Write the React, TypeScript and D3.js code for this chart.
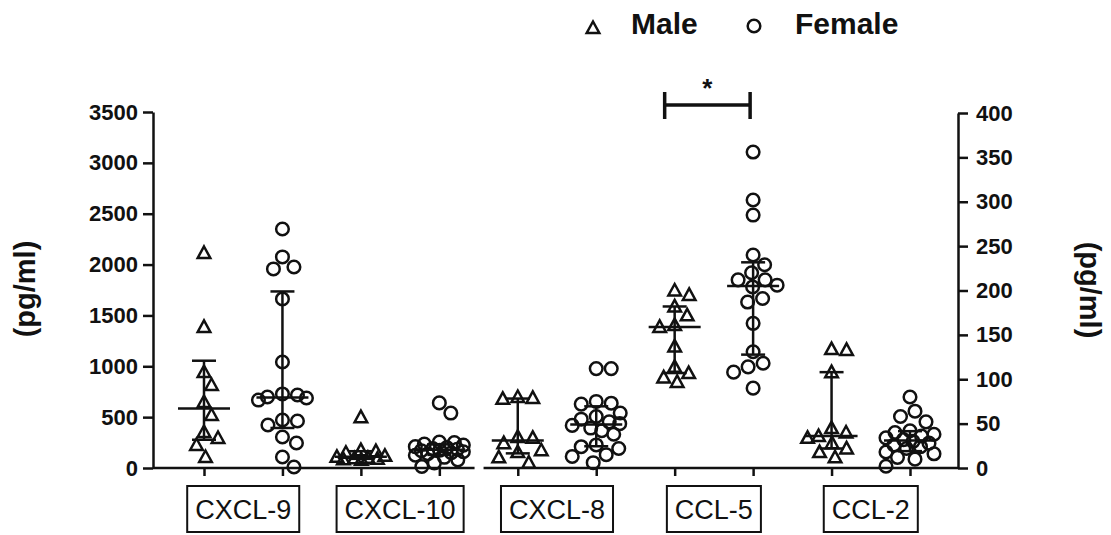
import * as d3 from 'd3';
import { useEffect, useRef } from 'react';

const categories = ['CXCL-9', 'CXCL-10', 'CXCL-8', 'CCL-5', 'CCL-2'];
const leftAxisCategories = ['CXCL-9', 'CXCL-10'];

const maleValues: number[][] = [
  [2114, 1387, 944, 816, 649, 521, 354, 295, 226, 108],
  [500, 175, 165, 150, 120, 110, 100, 95, 90, 85, 80],
  [80, 79, 78, 35, 34, 28, 20, 18, 12, 6],
  [200, 195, 182, 172, 161, 159, 137, 114, 107, 102, 97],
  [134, 133, 108, 45, 40, 36, 34, 28, 22, 18, 12],
];

const femaleValues: number[][] = [
  [2350, 2075, 1976, 1957, 1662, 1042, 728, 718, 698, 688, 668, 472, 462, 423, 305, 246, 108, 10],
  [640, 540, 255, 250, 235, 225, 210, 200, 190, 185, 175, 170, 160, 150, 140, 125, 105, 80, 50, 15],
  [112, 112, 75, 73, 72, 62, 58, 55, 52, 50, 48, 45, 42, 38, 26, 24, 22, 15, 13, 6],
  [356, 302, 285, 240, 229, 220, 212, 212, 206, 204, 191, 187, 163, 131, 118, 114, 108, 90],
  [80, 64, 58, 52, 42, 40, 38, 36, 34, 32, 30, 28, 26, 24, 22, 18, 16, 12, 10, 2],
];

const leftTicks = [0, 500, 1000, 1500, 2000, 2500, 3000, 3500];
const rightTicks = [0, 50, 100, 150, 200, 250, 300, 350, 400];
const sexes = ['Male', 'Female'];
const axisTitle = '(pg/ml)';
const significance = '*';

const FONT = '"Liberation Sans", Arial, sans-serif';

// quartile the way prism does it: position p*(n+1)
const quantile = (sorted: number[], p: number) => {
  const n = sorted.length;
  const pos = p * (n + 1);
  if (pos <= 1) return sorted[0];
  if (pos >= n) return sorted[n - 1];
  const lo = Math.floor(pos);
  return sorted[lo - 1] + (pos - lo) * (sorted[lo] - sorted[lo - 1]);
};

// spread points sideways, but never wider than cap; dense piles overlap
const dodge = (ys: number[], minDist: number, cap: number) => {
  const order = ys.map((_, i) => i).sort((a, b) => ys[a] - ys[b]);
  const cands: number[] = [0];
  for (let s = 0.5; s <= cap; s += 0.5) cands.push(s, -s);
  const placed: { x: number; y: number }[] = [];
  const xs = new Array(ys.length).fill(0);
  for (const i of order) {
    const y = ys[i];
    let best = 0;
    let bestD = -1;
    for (const c of cands) {
      const d = placed.length
        ? Math.min(...placed.map((p) => Math.hypot(p.x - c, p.y - y)))
        : Infinity;
      if (d >= minDist) {
        best = c;
        bestD = d;
        break;
      }
      if (d > bestD + 0.01) {
        best = c;
        bestD = d;
      }
    }
    xs[i] = best;
    placed.push({ x: best, y });
  }
  return xs;
};

const trianglePath = 'M0,-6.5L6.3,5L-6.3,5Z';

const Chart = () => {
  const ref = useRef<SVGSVGElement>(null);

  useEffect(() => {
    const svg = d3.select(ref.current);
    svg.selectAll('*').remove();

    const keys = categories.flatMap((c) => sexes.map((s) => `${c}|${s}`));
    const x = d3.scalePoint<string>().domain(keys).range([204, 910]);
    const yLeft = d3.scaleLinear().domain([0, 3500]).range([468, 112]);
    const yRight = d3.scaleLinear().domain([0, 400]).range([468, 113]);
    const yFor = (c: string) => (leftAxisCategories.includes(c) ? yLeft : yRight);

    // left axis
    const gl = svg
      .append('g')
      .attr('transform', 'translate(153,0)')
      .call(
        d3
          .axisLeft(yLeft)
          .tickValues(leftTicks)
          .tickFormat(d3.format('d'))
          .tickSize(10)
          .tickSizeOuter(0)
          .tickPadding(5)
      );
    // right axis
    const gr = svg
      .append('g')
      .attr('transform', 'translate(958,0)')
      .call(
        d3
          .axisRight(yRight)
          .tickValues(rightTicks)
          .tickFormat(d3.format('d'))
          .tickSize(10)
          .tickSizeOuter(0)
          .tickPadding(8)
      );
    [gl, gr].forEach((g) => {
      g.selectAll('path, line').attr('stroke', '#111').attr('stroke-width', 2.5);
      g.selectAll('text')
        .attr('fill', '#111')
        .style('font-family', FONT)
        .style('font-size', '22px')
        .style('font-weight', 'bold');
    });

    // bottom axis, broken between left and right scale groups
    const gb = svg
      .append('g')
      .attr('transform', 'translate(0,468)')
      .call(d3.axisBottom(x).tickSize(8).tickFormat(() => ''));
    gb.select('.domain').remove();
    gb.selectAll('line').attr('stroke', '#111').attr('stroke-width', 2.5);
    const breakX = (x('CXCL-10|Female')! + x('CXCL-8|Male')!) / 2;
    [
      [153, breakX - 4],
      [breakX + 5, 958],
    ].forEach(([a, b]) => {
      svg
        .append('line')
        .attr('x1', a)
        .attr('x2', b)
        .attr('y1', 468)
        .attr('y2', 468)
        .attr('stroke', '#111')
        .attr('stroke-width', 2.5);
    });

    // boxed category labels
    categories.forEach((c) => {
      const cx = (x(`${c}|Male`)! + x(`${c}|Female`)!) / 2;
      const lab = svg.append('g');
      const box = lab.append('rect');
      const t = lab
        .append('text')
        .attr('x', cx)
        .attr('y', 519)
        .attr('text-anchor', 'middle')
        .style('font-family', FONT)
        .style('font-size', '27px')
        .attr('fill', '#111')
        .text(c);
      const bb = (t.node() as SVGTextElement).getBBox();
      box
        .attr('x', bb.x - 8)
        .attr('y', 486)
        .attr('width', bb.width + 16)
        .attr('height', 46)
        .attr('fill', 'white')
        .attr('stroke', '#111')
        .attr('stroke-width', 2);
    });

    // points and median/IQR bars
    categories.forEach((c, ci) => {
      const y = yFor(c);
      [maleValues[ci], femaleValues[ci]].forEach((vals, si) => {
        const key = `${c}|${sexes[si]}`;
        const cx = x(key)!;
        const ys = vals.map((v) => y(v));
        const dx = dodge(ys, 15, 24);
        const g = svg.append('g');
        if (si === 0) {
          g.selectAll('path')
            .data(vals)
            .enter()
            .append('path')
            .attr('d', trianglePath)
            .attr('transform', (_, i) => `translate(${cx + dx[i]},${ys[i]})`)
            .attr('fill', 'none')
            .attr('stroke', '#111')
            .attr('stroke-width', 2.5);
        } else {
          g.selectAll('circle')
            .data(vals)
            .enter()
            .append('circle')
            .attr('cx', (_, i) => cx + dx[i])
            .attr('cy', (_, i) => ys[i])
            .attr('r', 6.3)
            .attr('fill', 'none')
            .attr('stroke', '#111')
            .attr('stroke-width', 2.5);
        }

        const sorted = [...vals].sort((a, b) => a - b);
        const q1 = y(quantile(sorted, 0.25));
        const med = y(quantile(sorted, 0.5));
        const q3 = y(quantile(sorted, 0.75));
        const bars: [number, number, number, number][] = [
          [cx, q1, cx, q3],
          [cx - 12, q1, cx + 12, q1],
          [cx - 12, q3, cx + 12, q3],
          [cx - 26, med, cx + 26, med],
        ];
        g.selectAll('line')
          .data(bars)
          .enter()
          .append('line')
          .attr('x1', (d) => d[0])
          .attr('y1', (d) => d[1])
          .attr('x2', (d) => d[2])
          .attr('y2', (d) => d[3])
          .attr('stroke', '#111')
          .attr('stroke-width', 2.5);
      });
    });

    // significance bracket on CCL-5
    const bx1 = x('CCL-5|Male')! - 10;
    const bx2 = x('CCL-5|Female')! - 3;
    const by = yRight(409);
    const br = svg.append('g').attr('stroke', '#111').attr('stroke-width', 3.5);
    br.append('line').attr('x1', bx1).attr('x2', bx2).attr('y1', by).attr('y2', by);
    br.append('line').attr('x1', bx1).attr('x2', bx1).attr('y1', by - 13).attr('y2', by + 14);
    br.append('line').attr('x1', bx2).attr('x2', bx2).attr('y1', by - 13).attr('y2', by + 14);
    svg
      .append('text')
      .attr('x', (bx1 + bx2) / 2)
      .attr('y', by - 8)
      .attr('text-anchor', 'middle')
      .style('font-family', FONT)
      .style('font-size', '26px')
      .style('font-weight', 'bold')
      .attr('fill', '#111')
      .text(significance);

    // axis titles
    svg
      .append('text')
      .attr('transform', 'translate(35,289) rotate(-90)')
      .attr('text-anchor', 'middle')
      .style('font-family', FONT)
      .style('font-size', '29px')
      .style('font-weight', 'bold')
      .attr('fill', '#111')
      .text(axisTitle);
    svg
      .append('text')
      .attr('transform', 'translate(1080,290) rotate(90)')
      .attr('text-anchor', 'middle')
      .style('font-family', FONT)
      .style('font-size', '29px')
      .style('font-weight', 'bold')
      .attr('fill', '#111')
      .text(axisTitle);

    // legend
    const lg = svg.append('g');
    lg.append('path')
      .attr('d', trianglePath)
      .attr('transform', 'translate(593,28)')
      .attr('fill', 'none')
      .attr('stroke', '#111')
      .attr('stroke-width', 2.5);
    lg.append('circle')
      .attr('cx', 754)
      .attr('cy', 26)
      .attr('r', 6.3)
      .attr('fill', 'none')
      .attr('stroke', '#111')
      .attr('stroke-width', 2.5);
    [
      [sexes[0], 631],
      [sexes[1], 795],
    ].forEach(([label, lx]) => {
      lg.append('text')
        .attr('x', lx)
        .attr('y', 34)
        .style('font-family', FONT)
        .style('font-size', '30px')
        .style('font-weight', 'bold')
        .attr('fill', '#111')
        .text(label);
    });
  }, []);

  return <svg ref={ref} width={1111} height={535} style={{ display: 'block' }} />;
};

export default function App() {
  return (
    <div style={{ position: 'absolute', left: 0, top: 0, background: 'white' }}>
      <Chart />
    </div>
  );
}
